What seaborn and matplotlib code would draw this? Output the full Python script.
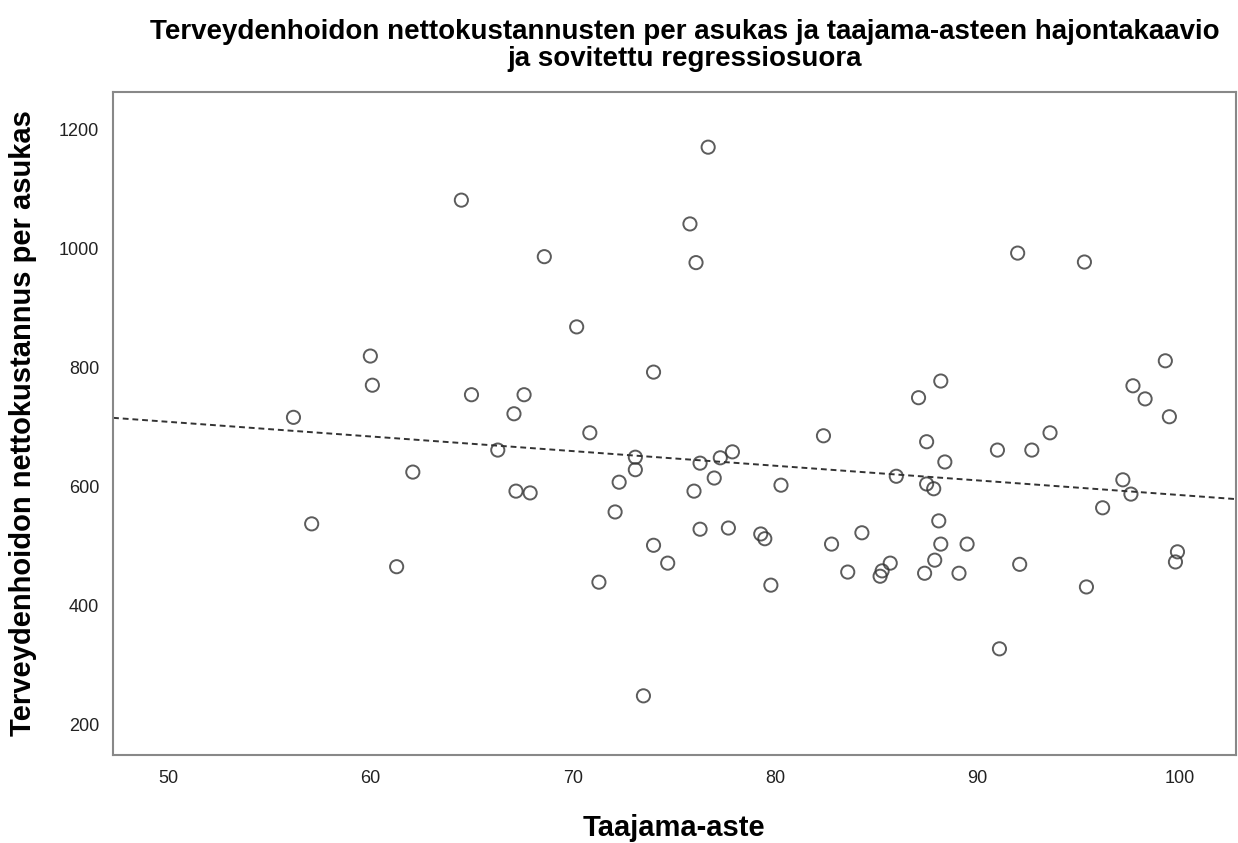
import matplotlib
matplotlib.use("Agg")
import matplotlib.pyplot as plt
import seaborn as sns
import pandas as pd

taajama_aste = [56.2, 57.1, 60.0, 60.1, 61.3, 62.1, 64.5, 65.0, 66.3, 67.1, 67.2, 67.6, 67.9,
                68.6, 70.2, 70.85, 71.3, 72.1, 72.3, 73.1, 73.1, 73.5, 74.0, 74.0, 74.7,
                75.8, 76.0, 76.1, 76.3, 76.3, 76.7, 77.0, 77.3, 77.7, 77.9, 79.3, 79.5, 79.8,
                80.3, 82.4, 82.8, 83.6, 84.3, 85.2, 85.3, 85.7, 86.0, 87.1, 87.4, 87.5, 87.5,
                87.85, 87.9, 88.1, 88.2, 88.2, 88.4, 89.1, 89.5, 91.0, 91.1, 92.0, 92.1, 92.7,
                93.6, 95.3, 95.4, 96.2, 97.2, 97.6, 97.7, 98.3, 99.3, 99.5, 99.8, 99.9]
kustannus = [717, 538, 820, 771, 466, 625, 1082, 755, 662, 723, 593, 755, 590,
             987, 869, 691, 440, 558, 608, 650, 629, 249, 793, 502, 472,
             1042, 593, 977, 640, 529, 1171, 615, 649, 531, 659, 521, 513, 435,
             603, 686, 504, 457, 523, 450, 459, 472, 618, 750, 455, 676, 605,
             597, 477, 543, 778, 504, 642, 455, 504, 662, 328, 993, 470, 662,
             691, 978, 432, 565, 612, 588, 770, 748, 812, 718, 474, 491]

df = pd.DataFrame({"Taajama-aste": taajama_aste,
                   "Kustannus": kustannus})

sns.set_style("white")
plt.rcParams["font.family"] = ["Liberation Sans", "DejaVu Sans"]

fig = plt.figure(figsize=(12.38, 8.43), dpi=100)
ax = fig.add_axes([0.0913, 0.1044, 0.9067, 0.7866])
ax.set_xlim(47.28, 102.77)
ax.set_ylim(149.6, 1263.9)

sns.regplot(data=df, x="Taajama-aste", y="Kustannus", ax=ax, ci=None, truncate=False,
            scatter_kws=dict(s=90, facecolors="none", edgecolors="#333333", linewidths=1.4),
            line_kws=dict(color="#333333", linestyle=(0, (3, 2)), linewidth=1.4))

ax.set_xlim(47.28, 102.77)
ax.set_ylim(149.6, 1263.9)
ax.set_xticks([50, 60, 70, 80, 90, 100])
ax.set_yticks([200, 400, 600, 800, 1000, 1200])
ax.tick_params(axis="both", length=0, labelsize=13, colors="#222222")
ax.tick_params(axis="x", pad=11)
ax.tick_params(axis="y", pad=10)
for s in ax.spines.values():
    s.set_color("#888888")
    s.set_linewidth(1.5)

ax.set_xlabel("Taajama-aste", fontsize=21, fontweight="bold", labelpad=19, color="black")
ax.set_ylabel("Terveydenhoidon nettokustannus per asukas", fontsize=21, fontweight="bold",
              labelpad=16, color="black")
fig.suptitle("Terveydenhoidon nettokustannusten per asukas ja taajama-asteen hajontakaavio\n"
             "ja sovitettu regressiosuora", fontsize=20, fontweight="bold", x=0.553, y=0.978,
             linespacing=1.05, color="black")

fig.savefig("out.png", dpi=100)
